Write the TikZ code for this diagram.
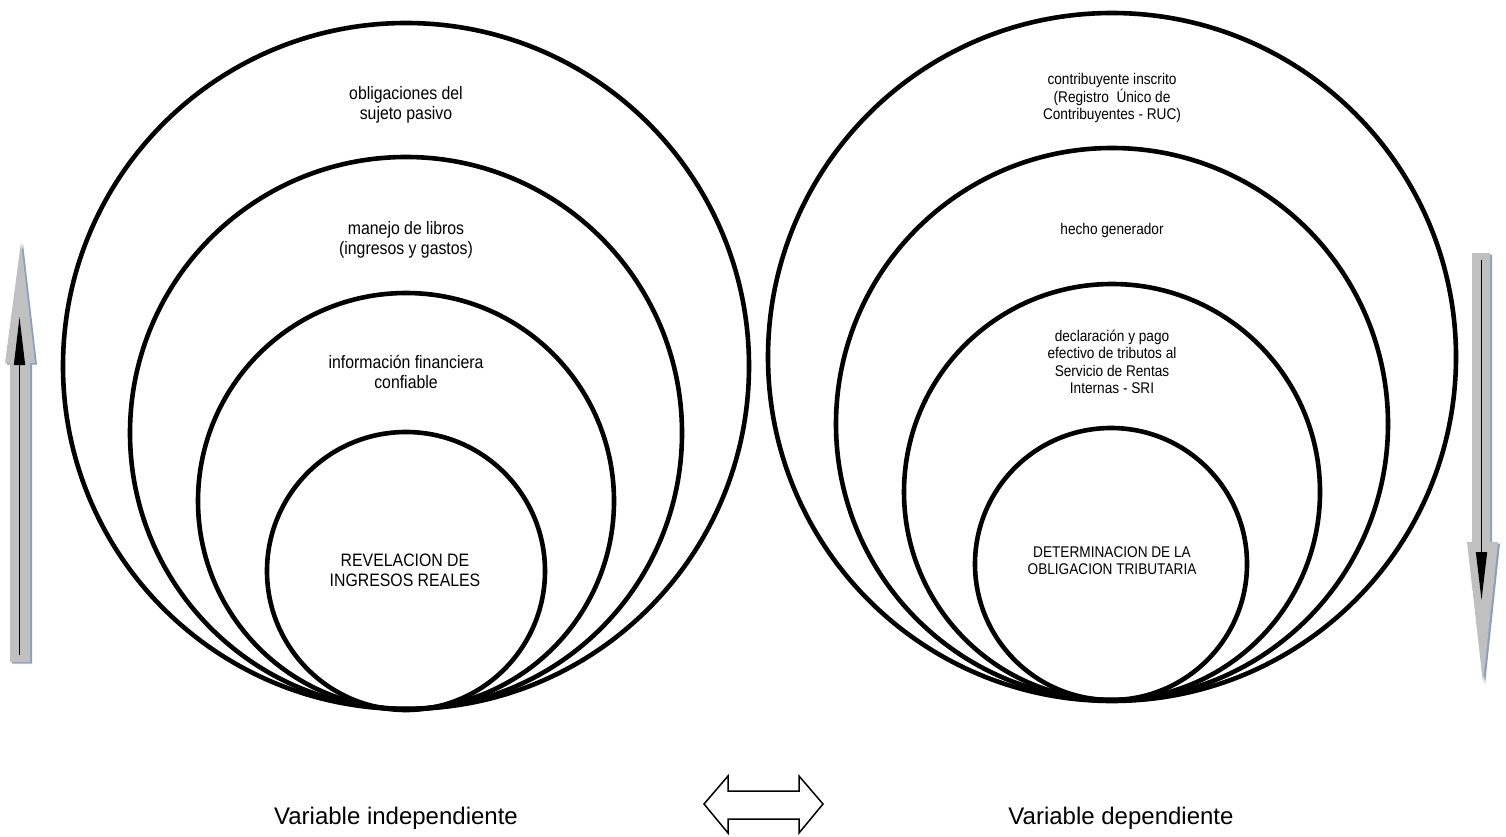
\documentclass[tikz,border=0pt]{standalone}
\usepackage{fontspec}
\setmainfont{Liberation Sans}
\newfontfamily\condfont{Liberation Sans}[FakeStretch=0.88]
\usetikzlibrary{arrows.meta}
\definecolor{arrgray}{RGB}{192,192,192}
\definecolor{arrshadow}{RGB}{140,160,190}
\begin{document}
\begin{tikzpicture}[x=1pt,y=-1pt,
  ring/.style={circle,draw,line width=4.6pt,inner sep=0pt},
  lbl/.style={font=\condfont\fontsize{18}{20}\selectfont,align=center,inner sep=0pt},
  rlbl/.style={font=\condfont\fontsize{15.5}{17.3}\selectfont,align=center,inner sep=0pt},
  varlbl/.style={font=\fontsize{24}{27}\selectfont,inner sep=0pt},
  bigarrow/.style={fill=arrgray},
  bigshadow/.style={fill=arrshadow},
  thinarrow/.style={line width=1.3pt,-{Triangle[length=48pt,width=11pt]}}]
\useasboundingbox (0,0) rectangle (1506,837);
% left group of circles
\node[ring,minimum size=686pt] (c1) at (406,366) {};
\node[ring,minimum size=552pt] (c2) at (406,433) {};
\node[ring,minimum size=416pt] (c3) at (406,501) {};
\node[ring,minimum size=278pt] (c4) at (406,571) {};
% right group of circles
\node[ring,minimum size=688pt] (d1) at (1112,357) {};
\node[ring,minimum size=552pt] (d2) at (1112,424) {};
\node[ring,minimum size=416pt] (d3) at (1112,492) {};
\node[ring,minimum size=272pt] (d4) at (1111,564) {};
% left texts
\node[lbl] (t1) at (406,105) {obligaciones del\\sujeto pasivo};
\node[lbl] (t2) at (406,240) {manejo de libros\\(ingresos y gastos)};
\node[lbl] (t3) at (406,372) {información financiera\\confiable};
\node[lbl] (t4) at (405,570) {REVELACION DE\\INGRESOS REALES};
% right texts
\node[rlbl] (u1) at (1112,98) {contribuyente inscrito\\(Registro~ Único de\\Contribuyentes - RUC)};
\node[rlbl] (u2) at (1112,230) {hecho generador};
\node[rlbl] (u3) at (1112,362) {declaración y pago\\efectivo de tributos al\\Servicio de Rentas\\Internas - SRI};
\node[rlbl] (u4) at (1112,561) {DETERMINACION DE LA\\OBLIGACION TRIBUTARIA};
% bottom labels
\node[varlbl] (v1) at (396,818) {Variable independiente};
\node[varlbl] (v2) at (1121,818) {Variable dependiente};
% double arrow
\draw[line width=1.5pt,fill=white] (704,804) -- (728,776) -- (728,791) -- (799,791) -- (799,776)
  -- (823,804) -- (799,833) -- (799,819) -- (728,819) -- (728,833) -- cycle;
% left vertical arrow (up)
\begin{scope}[shift={(2,1.5)}]
\fill[bigshadow] (21,242) -- (35,363) -- (30,363) -- (30,662) -- (10,662) -- (10,363) -- (5,363) -- cycle;
\end{scope}
\fill[bigarrow] (21,242) -- (35,363) -- (30,363) -- (30,662) -- (10,662) -- (10,363) -- (5,363) -- cycle;
\coordinate (la0) at (19.5,655);
\coordinate (la1) at (19.5,317);
\draw[thinarrow] (la0) -- (la1);
% right vertical arrow (down)
\begin{scope}[shift={(2,1.5)}]
\fill[bigshadow] (1472,253) -- (1490,253) -- (1490,542) -- (1498,542) -- (1483,683) -- (1467,542) -- (1472,542) -- cycle;
\end{scope}
\fill[bigarrow] (1472,253) -- (1490,253) -- (1490,542) -- (1498,542) -- (1483,683) -- (1467,542) -- (1472,542) -- cycle;
\coordinate (ra0) at (1481.5,260);
\coordinate (ra1) at (1481.5,600);
\draw[thinarrow] (ra0) -- (ra1);
\end{tikzpicture}
\end{document}
